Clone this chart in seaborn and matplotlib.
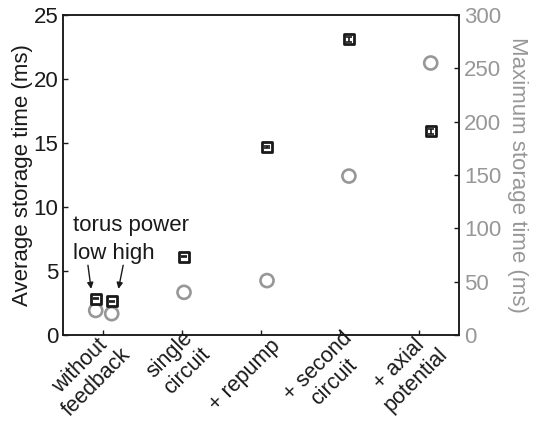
import matplotlib
matplotlib.use("Agg")
import matplotlib.pyplot as plt
import matplotlib.transforms as mtransforms
import pandas as pd
import seaborn as sns

# Tick categories along the x axis
categories = ["without\nfeedback", "single\ncircuit", "+ repump",
              "+ second\ncircuit", "+ axial\npotential"]

# Measured configurations (the first category has a low and a high torus power run)
configs = ["low power", "high power", "single circuit", "+ repump",
           "+ second circuit", "+ axial potential"]
config_category = [1, 1, 2, 3, 4, 5]
avg_storage_ms = [2.85, 2.65, 6.1, 14.7, 23.1, 15.9]
avg_storage_err_ms = [0.04, 0.04, 0.04, 0.06, 0.2, 0.2]
max_storage_ms = [23, 20, 40, 51, 149, 255]

GRAY = "#979797"
INK = "#1a1a1a"

sns.set_theme(style="ticks")
plt.rcParams["font.family"] = ["Liberation Sans", "DejaVu Sans"]
plt.rcParams["font.size"] = 16

# horizontal placement of each run relative to its category tick
x_shift = [-0.087, 0.115, 0.028, 0.076, 0.11, 0.143]

df = pd.DataFrame({
    "config": configs,
    "x": [c + s for c, s in zip(config_category, x_shift)],
    "avg": avg_storage_ms,
    "err": avg_storage_err_ms,
    "max": max_storage_ms,
})

fig = plt.figure(figsize=(5.37, 4.23), dpi=100)
ax = fig.add_axes([63 / 537, 88 / 423, 396 / 537, 320 / 423])
ax2 = ax.twinx()
ax.set_zorder(ax2.get_zorder() + 1)
ax.patch.set_visible(False)

# maximum storage time: open gray circles on the right axis
sns.scatterplot(data=df, x="x", y="max", ax=ax2, marker="o", s=88,
                facecolor="none", edgecolor=GRAY, linewidth=1.9,
                legend=False, zorder=3)
for coll in ax2.collections:
    coll.set_facecolor("none")
    coll.set_edgecolor(GRAY)

# average storage time: squares with error bars on the left axis
sns.scatterplot(data=df, x="x", y="avg", ax=ax, marker="s", s=56,
                color="white", edgecolor=INK, linewidth=2.0,
                legend=False, zorder=3)
ax.errorbar(df["x"], df["avg"], yerr=df["err"], fmt="none", ecolor=INK,
            elinewidth=1.2, capsize=2.2, capthick=1.2, zorder=4)

ax.set_xlim(0.5, 5.5)
ax.set_ylim(0, 25)
ax2.set_ylim(0, 300)
ax.set_yticks([0, 5, 10, 15, 20, 25])
ax2.set_yticks([0, 50, 100, 150, 200, 250, 300])
ax.set_xticks(range(1, 6))
ax.set_xlabel("")
ax2.set_xlabel("")

ax.set_ylabel("Average storage time (ms)", fontsize=16, color=INK, labelpad=0)
ax2.set_ylabel("Maximum storage time (ms)", fontsize=16, color=GRAY,
               rotation=270, va="bottom", labelpad=4)

ax.tick_params(axis="both", direction="in", length=3.5, width=1, colors=INK,
               labelsize=16, labelcolor=INK)
ax.tick_params(axis="x", pad=2)
ax2.tick_params(axis="y", direction="in", length=3.5, width=1, colors=INK,
                labelsize=16, labelcolor=GRAY)
for a in (ax, ax2):
    for sp in a.spines.values():
        sp.set_visible(True)
        sp.set_color(INK)
        sp.set_linewidth(1.1)

# slanted category labels, nudged down and right of their ticks
ax.set_xticklabels(categories, rotation=45, ha="right", va="center",
                   rotation_mode="anchor", multialignment="center",
                   linespacing=1.15, fontsize=15.5)
shift = mtransforms.ScaledTranslation(12 / 72, -4 / 72, fig.dpi_scale_trans)
for lbl in ax.get_xticklabels():
    lbl.set_transform(lbl.get_transform() + shift)

# torus power annotation for the two runs without feedback
ax.text(0.626, 8.1, "torus power", fontsize=16, color=INK, va="baseline")
ax.text(0.626, 5.95, "low high", fontsize=16, color=INK, va="baseline")
arrow = dict(arrowstyle="-|>", color=INK, lw=1.0, mutation_scale=9,
             shrinkA=0, shrinkB=0)
ax.annotate("", xy=(0.855, 3.6), xytext=(0.815, 5.45), arrowprops=arrow)
ax.annotate("", xy=(1.2, 3.6), xytext=(1.26, 5.45), arrowprops=arrow)

fig.savefig("out.png", dpi=100)
